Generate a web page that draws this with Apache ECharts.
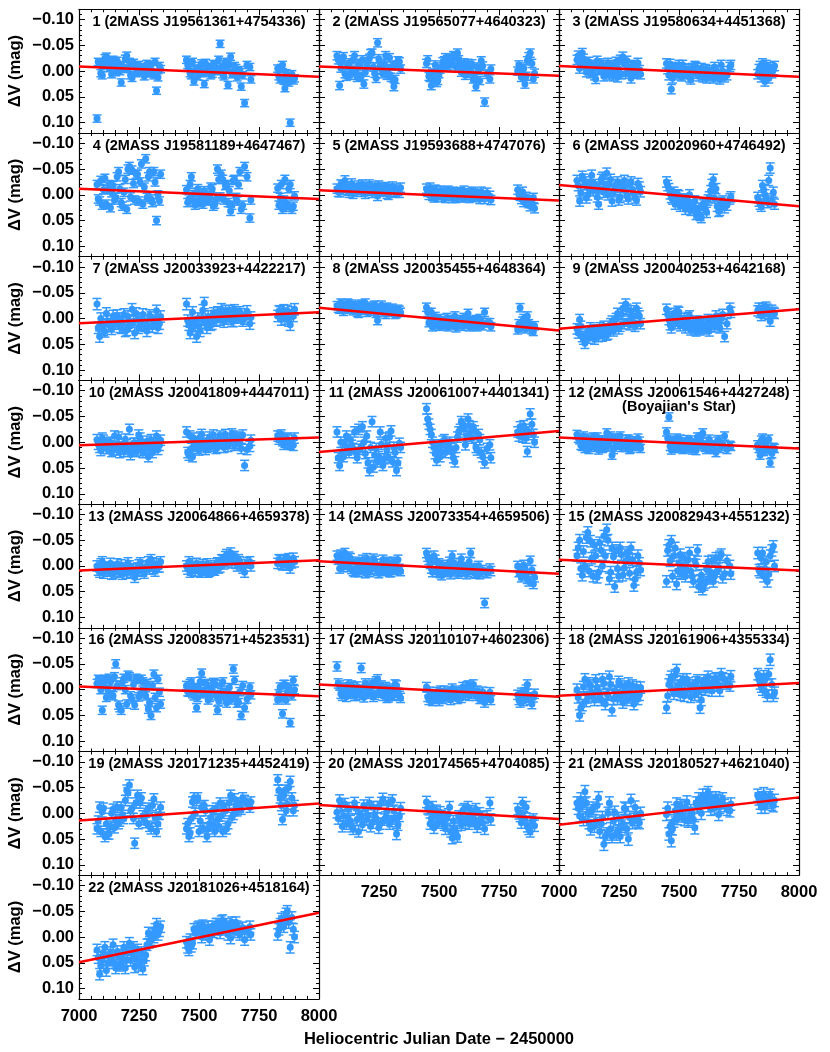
<!DOCTYPE html>
<html>
<head>
<meta charset="utf-8">
<title>Comparison star light curves</title>
<script src="https://cdn.jsdelivr.net/npm/echarts@6/dist/echarts.min.js"></script>
<style>
html, body { margin: 0; padding: 0; background: #fff; }
#main { width: 830px; height: 1052px; }
</style>
</head>
<body>
<div id="main"></div>
<script>
// observation dates (HJD - 2450000), shared by all comparison stars
// first pass
var dates = [7075, 7086, 7097, 7108, 7120, 7131, 7142, 7153, 7165, 7176, 7187, 7199, 7210, 7221, 7232, 7244, 7255, 7266, 7278, 7289, 7300, 7312, 7323, 7335,
	7448, 7458, 7468, 7479, 7490, 7500, 7511, 7522, 7533, 7544, 7555, 7566, 7577, 7588, 7599, 7610, 7621, 7632, 7643, 7654, 7665, 7676, 7690, 7712,
	7828, 7838, 7848, 7858, 7868, 7880, 7893,
	// second pass
	7080, 7091, 7102, 7114, 7125, 7136, 7148, 7159, 7170, 7181, 7193, 7204, 7215, 7227, 7238, 7249, 7260, 7272, 7283, 7294, 7306, 7317, 7329, 7340,
	7453, 7463, 7473, 7484, 7495, 7505, 7516, 7527, 7538, 7549, 7560, 7571, 7582, 7593, 7604, 7615, 7626, 7637, 7648, 7659, 7670, 7682, 7700, 7716,
	7833, 7843, 7853, 7863, 7874, 7887, 7898];

var starNames = ["J19561361+4754336", "J19565077+4640323", "J19580634+4451368", "J19581189+4647467", "J19593688+4747076", "J20020960+4746492",
	"J20033923+4422217", "J20035455+4648364", "J20040253+4642168", "J20041809+4447011", "J20061007+4401341", "J20061546+4427248",
	"J20064866+4659378", "J20073354+4659506", "J20082943+4551232", "J20083571+4523531", "J20110107+4602306", "J20161906+4355334",
	"J20171235+4452419", "J20174565+4704085", "J20180527+4621040", "J20181026+4518164"];

// delta V (mag) of each star, one value per date
var mag1 = [0.092, -0.015, 0.008, -0.025, -0.02, -0.008, -0.022, 0.002, -0.012, 0.022, -0.005, -0.03, -0.018, 0.013, -0.01, -0.004, 0.002, -0.008, -0.003, 0.004, -0.012, 0.008, 0.038, -0.01,
	-0.022, -0.012, 0.008, 0.02, -0.005, 0.003, -0.015, 0.025, 0.002, -0.008, 0.005, -0.012, -0.003, -0.053, 0.006, -0.018, 0.027, -0.028, 0.003, -0.006, 0.002, 0.03, 0.062, -0.008,
	-0.005, 0.016, -0.012, 0.033, 0.015, 0.1, 0.018,
	-0.018, 0.004, -0.012, -0.028, -0.006, 0.006, -0.015, -0.02, 0.0, -0.01, -0.024, -0.004, 0.008, -0.016, 0.004, -0.012, -0.002, 0.01, -0.014, -0.006, 0.004, -0.018, 0.012, -0.004,
	-0.012, 0.004, -0.018, -0.002, 0.01, -0.01, 0.004, -0.016, -0.006, 0.008, -0.014, 0.0, -0.022, -0.008, 0.01, -0.004, -0.014, 0.006, -0.01, 0.012, -0.002, 0.008, -0.012, 0.016,
	0.01, -0.006, 0.018, 0.004, 0.022, 0.006, 0.014];
var mag2 = [-0.03, 0.028, -0.02, 0.005, -0.012, 0.008, -0.022, 0.0, -0.015, 0.01, 0.025, -0.01, -0.025, -0.035, 0.004, -0.055, -0.01, 0.005, -0.03, -0.005, 0.012, 0.03, -0.012, -0.018,
	-0.015, 0.01, 0.028, 0.015, 0.022, 0.005, -0.008, -0.02, -0.01, -0.025, -0.015, -0.028, -0.035, -0.012, -0.005, 0.008, -0.015, 0.0, 0.015, 0.03, -0.002, -0.02, 0.06, 0.015,
	0.0, -0.008, 0.005, 0.025, -0.02, -0.035, 0.015,
	-0.022, -0.006, -0.028, 0.01, -0.016, -0.002, -0.03, 0.012, -0.01, -0.022, 0.002, -0.018, -0.034, -0.008, 0.014, -0.024, -0.004, -0.015, 0.008, -0.026, -0.01, 0.016, -0.02, -0.004,
	-0.022, 0.012, 0.004, -0.012, 0.018, -0.004, -0.018, -0.026, -0.012, -0.02, -0.03, -0.008, -0.022, 0.002, -0.016, -0.006, 0.004, -0.014, 0.012, -0.008, 0.018, -0.01, 0.006, -0.004,
	-0.012, 0.012, -0.005, 0.01, -0.028, -0.015, 0.004];
var mag3 = [-0.022, -0.005, -0.035, -0.015, -0.008, 0.004, -0.012, 0.015, -0.005, -0.015, 0.01, -0.008, 0.008, -0.012, -0.003, 0.012, -0.022, -0.028, 0.005, -0.008, 0.014, -0.012, 0.005, -0.002,
	-0.015, 0.008, 0.035, -0.008, 0.004, -0.012, 0.01, -0.005, 0.002, 0.012, -0.006, -0.01, 0.005, 0.0, 0.012, -0.004, 0.008, 0.002, 0.014, -0.002, 0.01, -0.012, 0.012, -0.008,
	0.006, -0.01, -0.015, 0.02, 0.008, -0.008, -0.002,
	-0.03, -0.012, -0.024, 0.002, -0.018, -0.008, 0.008, -0.02, -0.002, -0.012, 0.004, -0.016, -0.006, 0.01, -0.018, -0.004, 0.006, -0.014, -0.02, 0.0, -0.01, 0.004, -0.016, 0.006,
	-0.004, -0.014, 0.014, 0.004, -0.006, 0.008, -0.012, 0.006, -0.004, 0.016, 0.002, -0.008, 0.01, -0.006, 0.006, 0.014, -0.002, 0.01, -0.008, 0.006, 0.016, 0.0, 0.008, -0.012,
	-0.004, 0.012, 0.0, -0.012, 0.014, 0.004, -0.01];
var mag4 = [-0.02, 0.012, 0.02, -0.032, -0.01, 0.025, -0.018, 0.005, -0.045, 0.015, -0.005, 0.028, -0.055, -0.048, 0.01, -0.04, -0.025, 0.018, -0.07, -0.035, 0.008, -0.045, 0.05, 0.012,
	-0.01, 0.008, -0.035, 0.012, -0.005, 0.015, 0.002, -0.008, 0.01, 0.005, -0.012, 0.018, -0.05, 0.004, -0.03, -0.018, 0.015, 0.032, -0.028, 0.005, -0.02, 0.028, -0.055, 0.045,
	-0.013, 0.005, 0.028, -0.03, 0.018, -0.02, 0.022,
	0.008, -0.028, -0.01, 0.018, -0.02, -0.004, 0.01, -0.035, -0.012, 0.022, -0.03, -0.05, 0.004, -0.022, -0.04, 0.012, -0.06, -0.015, 0.005, -0.045, 0.015, -0.025, 0.0, -0.04,
	0.015, -0.02, 0.0, 0.02, -0.012, 0.008, 0.018, -0.004, 0.012, -0.015, 0.022, 0.008, -0.03, -0.04, 0.01, -0.02, -0.008, 0.02, -0.03, 0.012, -0.045, 0.02, -0.035, 0.01,
	0.02, -0.02, 0.01, 0.024, -0.012, 0.028, 0.002];
var mag5 = [-0.012, -0.005, -0.018, -0.028, -0.008, -0.015, -0.002, -0.012, -0.018, -0.006, -0.014, -0.01, -0.02, -0.004, -0.016, 0.002, -0.012, -0.008, -0.015, 0.0, -0.01, -0.006, -0.012, -0.004,
	-0.012, 0.0, -0.006, 0.005, -0.008, -0.002, 0.004, -0.006, 0.002, -0.004, 0.006, -0.002, 0.003, -0.005, 0.0, 0.005, -0.003, 0.002, -0.004, 0.004, 0.0, -0.006, 0.008, 0.002,
	-0.01, 0.002, -0.006, 0.008, 0.012, 0.022, 0.006,
	-0.006, -0.02, -0.01, -0.016, -0.004, -0.022, -0.01, -0.006, -0.014, -0.02, -0.002, -0.016, -0.008, -0.012, -0.004, -0.018, -0.006, -0.014, -0.002, -0.012, -0.016, -0.004, -0.008, -0.014,
	-0.006, -0.014, 0.002, -0.01, 0.004, -0.008, -0.002, 0.006, -0.008, 0.002, -0.006, 0.006, -0.004, 0.004, -0.008, 0.002, 0.006, -0.006, 0.004, -0.002, 0.008, 0.002, -0.004, 0.01,
	0.0, 0.008, 0.014, 0.004, 0.016, 0.01, 0.026];
var mag6 = [-0.028, 0.012, -0.036, -0.02, 0.0, -0.025, -0.008, -0.015, 0.018, -0.03, -0.005, -0.042, -0.02, 0.012, -0.01, -0.025, 0.005, -0.018, -0.008, 0.008, -0.025, -0.002, 0.01, -0.015,
	-0.025, -0.012, 0.005, -0.005, 0.012, 0.002, 0.015, 0.008, 0.02, 0.0, 0.025, 0.012, 0.035, 0.04, 0.018, 0.028, 0.01, -0.008, -0.03, -0.012, 0.032, 0.015, 0.025, 0.008,
	0.005, 0.018, -0.018, 0.0, 0.015, -0.052, -0.005,
	-0.018, -0.004, -0.03, 0.006, -0.012, -0.038, -0.02, 0.004, -0.012, -0.034, -0.016, 0.0, -0.03, -0.006, -0.02, 0.01, -0.014, -0.028, 0.002, -0.02, -0.01, 0.006, -0.022, -0.006,
	-0.018, -0.002, 0.008, 0.018, 0.0, 0.022, 0.01, 0.028, 0.012, 0.03, 0.02, 0.038, 0.026, 0.044, 0.02, 0.034, 0.004, -0.02, 0.006, 0.022, 0.03, 0.012, 0.02, 0.004,
	0.012, 0.022, -0.01, 0.008, -0.028, 0.012, 0.018];
var mag7 = [-0.028, 0.035, 0.012, 0.025, 0.005, 0.015, -0.005, 0.01, 0.0, 0.018, -0.008, 0.022, 0.005, -0.018, 0.028, 0.002, 0.012, -0.008, 0.01, 0.015, -0.002, 0.008, -0.015, 0.01,
	-0.028, 0.012, 0.02, 0.008, 0.035, 0.015, 0.002, -0.03, 0.018, 0.005, 0.01, -0.005, -0.012, 0.002, -0.008, -0.015, 0.0, -0.01, 0.005, -0.012, -0.004, -0.008, 0.0, 0.01,
	-0.005, -0.012, -0.008, 0.0, -0.015, 0.012, -0.005,
	0.018, 0.0, 0.022, -0.01, 0.012, 0.02, 0.004, -0.006, 0.016, 0.008, 0.024, -0.004, 0.014, 0.006, -0.01, 0.018, 0.0, 0.014, 0.024, -0.006, 0.016, 0.004, 0.018, -0.004,
	0.004, 0.028, -0.012, 0.014, 0.0, 0.024, -0.016, 0.008, -0.004, 0.012, -0.01, 0.004, -0.006, -0.018, 0.006, -0.006, -0.014, 0.004, -0.016, -0.002, -0.012, 0.004, -0.014, -0.002,
	-0.014, 0.002, -0.016, -0.006, 0.004, -0.012, -0.018];
var mag8 = [-0.025, -0.018, -0.028, -0.02, -0.03, -0.022, -0.015, -0.025, -0.01, -0.028, -0.02, -0.012, -0.022, -0.018, -0.026, 0.004, -0.015, -0.02, -0.008, -0.018, -0.012, -0.015, -0.01, -0.016,
	-0.022, 0.008, -0.012, 0.012, 0.002, 0.015, 0.005, 0.01, -0.002, 0.012, 0.006, -0.005, 0.01, 0.002, 0.015, 0.004, -0.01, 0.008, 0.014, 0.002, 0.012, 0.005, -0.012, 0.008,
	0.022, -0.021, 0.005, 0.012, -0.005, 0.015, 0.025,
	-0.02, -0.03, -0.014, -0.024, -0.018, -0.028, -0.022, -0.012, -0.026, -0.016, -0.03, -0.02, -0.014, -0.024, -0.01, -0.02, -0.026, -0.012, -0.022, -0.014, -0.02, -0.008, -0.018, -0.012,
	-0.012, 0.004, 0.016, -0.004, 0.01, 0.0, 0.014, 0.006, 0.016, 0.002, 0.012, 0.018, 0.006, 0.012, -0.002, 0.01, 0.016, 0.004, 0.008, 0.016, 0.0, 0.014, 0.008, 0.016,
	0.01, 0.018, 0.0, 0.02, 0.01, 0.022, 0.014];
var mag9 = [0.02, 0.002, 0.035, 0.048, 0.025, 0.018, 0.03, 0.022, 0.035, 0.028, 0.015, 0.032, 0.02, 0.005, 0.012, -0.01, 0.015, -0.02, -0.028, 0.005, -0.015, 0.008, -0.02, -0.005,
	-0.018, 0.002, 0.018, -0.01, 0.005, -0.012, 0.008, 0.0, 0.012, -0.005, 0.015, 0.02, 0.005, 0.022, 0.01, 0.018, 0.002, 0.015, 0.008, -0.005, 0.012, 0.0, 0.035, -0.02,
	-0.015, -0.012, -0.02, -0.01, -0.018, 0.005, -0.012,
	0.028, 0.015, 0.04, 0.03, 0.038, 0.024, 0.04, 0.028, 0.018, 0.034, 0.022, 0.03, 0.01, 0.024, 0.0, 0.02, -0.008, 0.01, -0.018, 0.012, -0.004, 0.015, -0.01, 0.01,
	-0.008, 0.012, -0.004, 0.01, -0.014, 0.014, 0.004, 0.018, -0.002, 0.022, 0.008, 0.024, 0.014, 0.006, 0.02, 0.012, 0.024, 0.006, 0.016, 0.004, 0.018, -0.008, 0.01, -0.012,
	-0.02, -0.006, -0.016, -0.022, -0.008, -0.016, -0.01];
var mag10 = [-0.005, 0.01, -0.008, 0.005, 0.012, 0.0, 0.015, 0.008, -0.01, 0.012, 0.018, 0.005, -0.025, 0.01, 0.002, 0.015, -0.008, 0.02, 0.005, 0.028, -0.005, 0.01, -0.012, 0.006,
	-0.02, 0.025, 0.012, -0.008, 0.005, 0.015, -0.015, 0.002, 0.01, -0.01, 0.005, -0.005, 0.01, -0.012, 0.0, -0.015, 0.008, -0.005, -0.012, 0.003, -0.008, 0.012, 0.045, 0.008,
	-0.012, -0.01, -0.003, 0.0, -0.006, 0.004, 0.006,
	0.004, 0.016, -0.004, 0.012, 0.002, 0.018, -0.012, 0.014, 0.02, 0.004, -0.006, 0.014, 0.024, 0.002, 0.018, -0.014, 0.008, 0.016, -0.002, 0.012, 0.02, 0.002, 0.014, -0.004,
	0.02, -0.012, 0.028, 0.004, 0.012, -0.01, 0.006, 0.014, -0.004, 0.008, -0.014, 0.012, 0.002, -0.008, 0.01, -0.006, 0.002, -0.016, 0.006, -0.01, 0.002, -0.014, 0.014, -0.004,
	-0.006, -0.014, 0.004, -0.008, 0.002, -0.004, -0.008];
var mag11 = [-0.02, 0.045, 0.02, 0.005, 0.015, -0.005, 0.012, 0.02, -0.025, 0.008, 0.0, -0.012, 0.055, -0.04, 0.025, 0.038, -0.02, 0.045, -0.008, 0.03, -0.022, 0.01, 0.055, 0.002,
	-0.065, -0.035, -0.015, 0.01, 0.035, 0.005, 0.018, -0.005, 0.012, 0.0, 0.02, 0.038, -0.01, -0.025, -0.035, 0.005, -0.045, -0.02, -0.03, 0.01, -0.015, 0.02, 0.04, 0.005,
	-0.02, -0.03, -0.01, -0.025, 0.018, -0.055, -0.015,
	0.03, 0.0, 0.028, -0.012, 0.02, 0.006, -0.02, 0.03, 0.014, -0.03, 0.022, 0.04, 0.01, 0.048, 0.012, 0.028, 0.004, 0.032, 0.014, -0.01, 0.038, 0.02, 0.04, 0.01,
	-0.045, -0.025, 0.0, 0.022, 0.012, 0.028, -0.002, 0.02, 0.004, 0.012, 0.03, 0.01, -0.02, -0.04, -0.025, -0.012, -0.032, -0.008, -0.022, 0.015, -0.005, 0.028, 0.012, 0.03,
	-0.012, -0.022, -0.032, -0.008, -0.02, -0.035, 0.0];
var mag12 = [-0.015, -0.005, 0.008, 0.012, -0.008, 0.002, -0.01, 0.005, 0.015, -0.005, 0.01, -0.018, 0.0, 0.025, -0.008, 0.006, -0.012, 0.002, 0.01, -0.006, 0.012, -0.003, 0.008, -0.002,
	-0.02, -0.049, 0.015, 0.002, -0.008, 0.01, 0.0, 0.012, -0.005, 0.008, 0.015, 0.002, -0.01, 0.005, -0.018, 0.01, 0.0, 0.012, 0.005, 0.02, -0.005, 0.008, -0.012, 0.006,
	0.005, 0.025, -0.008, 0.002, 0.015, 0.04, 0.01,
	-0.008, 0.006, -0.012, 0.004, 0.014, -0.002, 0.01, -0.01, 0.006, 0.012, -0.004, 0.008, -0.012, 0.014, 0.002, -0.008, 0.01, 0.004, -0.006, 0.014, 0.0, 0.008, -0.008, 0.012,
	-0.008, 0.008, -0.004, 0.012, 0.002, -0.006, 0.014, 0.004, 0.012, -0.004, 0.01, 0.016, 0.004, -0.01, 0.008, 0.014, -0.006, 0.006, 0.014, -0.002, 0.012, 0.004, 0.014, 0.008,
	0.012, -0.004, 0.018, 0.006, -0.006, 0.022, 0.012];
var mag13 = [0.0, 0.012, -0.008, 0.005, 0.01, -0.005, 0.015, 0.003, 0.012, -0.002, 0.008, 0.014, 0.0, 0.006, 0.022, 0.004, -0.006, 0.01, 0.002, -0.008, -0.012, 0.005, -0.004, 0.002,
	0.0, -0.008, 0.008, 0.004, -0.005, 0.01, 0.002, 0.006, -0.004, 0.01, 0.004, 0.008, -0.006, 0.002, -0.01, -0.018, -0.008, -0.025, -0.015, -0.005, -0.012, -0.002, 0.012, -0.008,
	-0.005, -0.01, -0.002, -0.012, -0.008, 0.004, -0.015,
	0.008, -0.004, 0.014, 0.002, 0.01, 0.016, 0.006, -0.004, 0.01, 0.016, 0.004, -0.006, 0.012, 0.006, 0.016, -0.002, 0.008, 0.014, 0.0, 0.006, -0.006, 0.01, 0.002, -0.008,
	0.006, 0.012, -0.004, 0.01, 0.002, 0.012, -0.002, 0.008, 0.012, 0.0, 0.006, -0.004, 0.004, -0.012, -0.004, -0.022, -0.012, -0.006, -0.018, 0.0, -0.008, 0.004, -0.006, 0.0,
	-0.012, -0.004, -0.01, -0.002, -0.014, -0.006, -0.008];
var mag14 = [-0.02, 0.005, -0.012, -0.025, 0.002, -0.015, 0.01, -0.008, 0.012, -0.005, 0.005, -0.015, 0.012, 0.0, -0.01, 0.01, 0.002, -0.012, 0.008, -0.005, 0.012, -0.008, 0.0, 0.006,
	-0.025, -0.012, 0.005, -0.02, 0.012, -0.005, 0.018, 0.002, 0.01, -0.008, -0.02, 0.008, 0.015, -0.005, 0.01, 0.002, 0.012, -0.025, 0.008, 0.015, 0.0, 0.012, 0.072, 0.005,
	0.0, 0.01, 0.018, 0.005, 0.025, -0.01, 0.035,
	-0.012, -0.022, 0.002, -0.008, -0.018, 0.006, 0.012, -0.004, 0.008, -0.012, 0.014, 0.0, 0.008, -0.014, 0.006, 0.014, -0.004, 0.01, -0.008, 0.012, -0.002, 0.008, -0.012, 0.01,
	-0.018, -0.004, 0.012, -0.012, 0.004, 0.014, -0.002, 0.012, 0.004, 0.016, -0.006, 0.002, 0.012, -0.014, 0.006, 0.016, -0.008, 0.006, 0.014, 0.004, 0.016, 0.008, 0.014, 0.01,
	0.012, 0.022, -0.002, 0.016, 0.03, 0.008, 0.022];
var mag15 = [-0.02, -0.05, 0.018, 0.0, -0.065, -0.048, 0.02, -0.02, 0.012, -0.03, -0.058, -0.07, 0.025, -0.035, 0.04, 0.005, -0.035, 0.018, -0.008, -0.015, -0.035, 0.038, 0.012, -0.005,
	0.03, -0.04, -0.048, -0.02, 0.035, -0.005, 0.015, -0.015, 0.008, -0.025, 0.02, -0.01, -0.03, 0.028, 0.045, 0.032, -0.008, 0.012, 0.03, -0.015, 0.005, -0.022, 0.015, 0.0,
	-0.025, 0.012, -0.025, 0.005, 0.03, -0.02, -0.038,
	-0.035, 0.005, -0.028, -0.055, 0.01, -0.015, -0.04, 0.022, -0.045, 0.0, -0.02, -0.05, 0.012, -0.018, -0.03, 0.02, -0.022, 0.004, -0.026, 0.014, -0.012, 0.026, -0.02, 0.008,
	-0.03, -0.01, 0.02, -0.035, 0.01, -0.022, 0.004, 0.02, -0.012, 0.01, 0.03, -0.002, 0.04, 0.018, 0.036, 0.006, 0.024, -0.01, 0.02, 0.01, -0.018, 0.022, -0.01, 0.015,
	0.008, -0.015, 0.02, -0.008, 0.016, -0.03, 0.0];
var mag16 = [-0.012, -0.018, 0.04, -0.02, 0.0, -0.015, 0.012, -0.05, 0.03, 0.04, -0.022, 0.028, -0.025, 0.018, 0.03, -0.02, 0.008, -0.015, 0.012, 0.038, 0.05, -0.03, 0.035, 0.005,
	-0.008, 0.005, -0.015, 0.012, 0.035, -0.002, -0.032, 0.005, -0.01, 0.015, 0.0, -0.012, 0.04, 0.01, -0.015, 0.018, 0.005, 0.02, -0.04, 0.012, 0.025, 0.05, 0.035, -0.005,
	0.02, -0.005, 0.047, -0.01, 0.005, 0.064, -0.018,
	-0.02, 0.0, -0.01, 0.015, -0.022, 0.01, -0.025, -0.008, 0.035, -0.015, 0.0, -0.028, 0.012, -0.01, -0.022, 0.014, -0.02, 0.004, -0.012, 0.025, -0.008, 0.015, -0.02, 0.028,
	0.004, -0.012, 0.008, -0.004, 0.015, -0.016, 0.008, -0.012, 0.02, 0.002, -0.014, 0.012, 0.022, -0.01, 0.008, 0.026, -0.004, 0.014, -0.018, 0.026, 0.004, -0.008, 0.018, 0.01,
	0.008, 0.016, -0.01, 0.02, -0.005, 0.012, 0.0];
var mag17 = [-0.045, -0.008, 0.012, 0.0, -0.01, 0.008, -0.005, 0.012, 0.002, -0.042, 0.015, -0.008, 0.005, -0.012, 0.01, -0.02, 0.0, 0.012, -0.005, 0.015, 0.002, 0.01, -0.008, 0.012,
	-0.005, 0.02, 0.012, 0.018, 0.005, 0.022, 0.01, 0.002, 0.015, 0.008, -0.002, 0.012, 0.018, 0.005, -0.005, 0.01, -0.008, 0.002, -0.01, 0.012, 0.008, 0.015, 0.025, 0.005,
	0.01, 0.025, 0.012, 0.005, -0.01, 0.02, 0.015,
	-0.012, 0.008, -0.004, 0.014, 0.004, -0.008, 0.012, -0.006, 0.01, 0.0, -0.012, 0.008, -0.004, 0.014, -0.016, 0.006, -0.008, 0.004, 0.016, -0.002, 0.012, -0.01, 0.006, 0.016,
	0.014, 0.004, 0.022, 0.01, 0.016, 0.002, 0.018, 0.012, 0.004, 0.02, 0.008, 0.002, 0.012, 0.016, 0.006, -0.006, 0.012, -0.004, 0.008, 0.002, 0.018, 0.004, 0.014, 0.02,
	0.02, 0.006, 0.022, 0.0, 0.016, 0.028, 0.008];
var mag18 = [0.0, 0.05, 0.03, -0.02, 0.015, -0.008, 0.012, -0.018, 0.005, 0.02, -0.012, 0.008, -0.025, 0.04, 0.002, 0.018, -0.01, 0.025, 0.005, -0.012, 0.015, 0.028, -0.005, 0.01,
	0.035, -0.01, -0.025, 0.008, -0.038, 0.002, -0.015, 0.012, -0.02, 0.0, -0.008, 0.01, -0.018, 0.035, -0.012, 0.0, -0.025, -0.005, -0.015, -0.022, -0.01, -0.03, -0.02, -0.008,
	-0.03, -0.012, 0.0, -0.02, 0.012, -0.058, 0.012,
	0.015, 0.035, -0.005, 0.022, -0.012, 0.006, 0.02, -0.004, 0.014, -0.02, 0.028, 0.01, -0.01, 0.018, 0.004, -0.015, 0.012, -0.006, 0.02, 0.006, -0.008, 0.01, 0.018, -0.004,
	0.012, -0.018, 0.0, -0.028, -0.008, 0.01, -0.02, 0.004, -0.012, 0.014, -0.002, -0.014, 0.004, 0.02, -0.018, -0.006, -0.012, 0.002, -0.02, -0.008, 0.002, -0.022, -0.012, -0.026,
	-0.02, -0.006, -0.026, 0.004, -0.03, -0.01, 0.006];
var mag19 = [0.03, -0.012, -0.003, 0.045, 0.04, 0.025, -0.008, 0.012, 0.02, -0.012, 0.01, -0.045, -0.055, -0.01, 0.058, -0.035, -0.02, 0.005, 0.018, -0.01, 0.03, -0.028, 0.035, 0.002,
	0.03, 0.045, 0.01, -0.03, -0.025, 0.035, -0.012, -0.015, 0.045, 0.02, -0.005, 0.035, 0.012, -0.02, 0.035, -0.005, 0.02, -0.035, 0.002, -0.015, -0.02, -0.008, -0.025, -0.012,
	-0.065, -0.03, 0.012, -0.045, -0.018, -0.062, -0.005,
	0.015, 0.035, -0.01, 0.02, 0.04, 0.0, 0.028, -0.012, 0.015, 0.004, -0.025, -0.04, -0.005, 0.01, -0.02, 0.02, -0.03, 0.012, -0.005, 0.025, -0.015, 0.008, 0.02, -0.012,
	0.02, 0.038, -0.022, 0.0, -0.03, 0.015, 0.028, -0.005, 0.03, 0.008, 0.022, -0.01, 0.025, 0.005, -0.015, 0.03, -0.02, 0.008, -0.028, -0.005, -0.012, -0.03, -0.018, -0.022,
	-0.045, -0.015, -0.035, -0.005, -0.05, -0.03, -0.015];
var mag20 = [-0.002, -0.025, 0.025, -0.018, 0.008, 0.015, 0.03, -0.01, 0.035, 0.005, -0.015, 0.012, -0.02, 0.018, 0.002, -0.012, 0.02, -0.028, 0.008, -0.02, 0.015, -0.005, 0.04, 0.005,
	-0.022, -0.008, 0.01, 0.028, -0.005, 0.015, 0.005, 0.022, 0.01, -0.012, 0.048, 0.03, 0.045, 0.012, -0.005, 0.018, -0.012, 0.005, 0.015, -0.008, 0.02, 0.008, 0.03, -0.02,
	-0.008, 0.005, -0.02, 0.01, 0.025, 0.035, 0.012,
	0.01, -0.015, 0.005, 0.02, -0.01, 0.025, -0.02, 0.012, 0.0, 0.022, -0.008, 0.004, 0.025, -0.012, 0.01, 0.028, -0.02, 0.012, -0.004, 0.02, -0.025, 0.01, 0.022, -0.01,
	-0.01, 0.02, -0.012, 0.004, 0.018, -0.002, 0.014, 0.03, 0.002, 0.035, 0.015, 0.04, 0.006, 0.022, -0.008, 0.01, 0.02, -0.004, 0.012, 0.026, 0.0, 0.018, 0.006, 0.012,
	0.0, 0.018, 0.008, -0.012, 0.03, 0.016, 0.024];
var mag21 = [-0.02, 0.005, -0.015, -0.042, 0.0, 0.03, -0.01, 0.015, -0.03, 0.02, 0.06, 0.04, -0.02, 0.045, -0.002, 0.035, 0.045, 0.02, -0.008, 0.05, -0.025, 0.012, 0.002, 0.018,
	0.002, 0.04, 0.053, 0.015, -0.018, 0.0, -0.01, 0.012, -0.022, 0.008, 0.0, 0.028, -0.012, -0.015, -0.035, -0.025, -0.04, -0.008, -0.02, -0.03, 0.002, -0.022, -0.015, -0.005,
	-0.035, -0.02, -0.03, -0.012, -0.022, -0.035, -0.015,
	-0.01, -0.028, 0.012, -0.02, 0.018, -0.005, 0.025, -0.015, 0.035, 0.008, 0.045, 0.0, 0.03, 0.015, 0.04, 0.01, 0.025, -0.01, 0.03, 0.008, 0.018, -0.012, 0.015, 0.0,
	-0.01, 0.025, 0.03, -0.005, 0.01, -0.015, 0.005, -0.012, 0.015, -0.005, 0.012, -0.02, -0.028, 0.0, -0.022, -0.035, -0.015, -0.03, -0.01, -0.025, -0.012, -0.028, -0.008, -0.018,
	-0.028, -0.012, -0.038, -0.025, -0.03, -0.018, -0.025];
var mag22 = [0.025, 0.072, 0.045, 0.02, 0.05, 0.03, 0.015, 0.06, 0.038, 0.052, 0.02, 0.045, 0.012, 0.032, 0.058, 0.025, 0.048, 0.062, 0.035, -0.008, 0.005, 0.0, -0.025, -0.012,
	0.01, 0.025, 0.018, -0.015, -0.01, -0.02, 0.0, -0.018, -0.012, 0.005, -0.02, -0.015, -0.025, -0.008, -0.032, -0.02, -0.005, 0.002, -0.022, -0.028, -0.015, -0.01, 0.005, -0.02,
	-0.005, -0.025, -0.03, -0.038, -0.05, 0.02, -0.015,
	0.04, 0.055, 0.03, 0.065, 0.035, 0.045, 0.05, 0.028, 0.055, 0.035, 0.06, 0.03, 0.045, 0.02, 0.04, 0.055, 0.03, 0.045, 0.015, 0.01, -0.005, -0.015, -0.005, -0.02,
	0.02, 0.005, 0.012, -0.008, -0.018, -0.01, -0.022, -0.005, -0.02, -0.012, -0.01, -0.025, -0.018, -0.03, -0.015, -0.025, -0.012, -0.028, -0.01, -0.02, -0.005, -0.018, -0.01, -0.005,
	-0.015, -0.035, -0.02, -0.045, -0.028, -0.038, 0.0];

// typical photometric error of each star (mag)
var errSize = [0.007, 0.008, 0.009, 0.008, 0.009, 0.010, 0.011, 0.008, 0.010, 0.010, 0.010, 0.008, 0.010, 0.009, 0.011, 0.008, 0.009, 0.011, 0.010, 0.011, 0.012, 0.011];

// linear fit of each star, value at HJD 7000 and at HJD 8000
var trendStart = [-0.009, -0.009, -0.01, -0.012, -0.009, -0.019, 0.009, -0.021, 0.02, 0.006, 0.019, -0.009, 0.009, -0.009, -0.012, -0.006, -0.01, 0.012, 0.014, -0.016, 0.022, 0.049];
var trendEnd = [0.011, 0.009, 0.011, 0.008, 0.011, 0.022, -0.012, 0.023, -0.018, -0.009, -0.022, 0.012, -0.011, 0.015, 0.009, 0.013, 0.014, -0.013, -0.019, 0.011, -0.031, -0.047];

// tick labels
var yTicks = [-0.10, -0.05, 0.00, 0.05, 0.10];

var mags = [mag1, mag2, mag3, mag4, mag5, mag6, mag7, mag8, mag9, mag10, mag11,
	mag12, mag13, mag14, mag15, mag16, mag17, mag18, mag19, mag20, mag21, mag22];

var lightCurves = {
	// page layout
	panelLeft: 79,
	panelTop: 9.3,
	panelW: 240,
	panelH: 123.7,
	pointColor: '#3399ff',
	fontName: '"Liberation Sans", Arial, sans-serif',

	magLabel: function(v) {
		// only label the multiples of 0.05
		var r = Math.round(v * 100);
		if (r % 5 !== 0) {
			return '';
		}
		if (r === 0) {
			return '0.00';
		}
		return (r < 0 ? '\u2212' : '') + (Math.abs(r) / 100).toFixed(2);
	},

	makeXAxis: function(i, pos, showLabel, showEnds) {
		return {
			gridIndex: i, type: 'value', position: pos,
			min: 7000, max: 8000, interval: 250,
			axisLine: { onZero: false, lineStyle: { color: '#000', width: 1.2 } },
			axisTick: { inside: true, length: 6, lineStyle: { color: '#000', width: 1 } },
			minorTick: { show: true, splitNumber: 5, length: 3, lineStyle: { color: '#000', width: 1 } },
			splitLine: { show: false },
			axisLabel: {
				show: showLabel, showMinLabel: showEnds, showMaxLabel: showEnds, margin: 9,
				formatter: function(v) { return String(v); },
				color: '#000', fontSize: 16.5, fontWeight: 'bold', fontFamily: lightCurves.fontName
			}
		};
	},

	makeYAxis: function(i, pos, major, showLabel) {
		var ax = {
			gridIndex: i, type: 'value', position: pos, inverse: true,
			min: -0.12, max: 0.12,
			axisLine: { show: !major, onZero: false, lineStyle: { color: '#000', width: 1.2 } },
			splitLine: { show: false }
		};
		if (major) {
			// long ticks at the labelled values
			ax.axisTick = { inside: true, length: 6, customValues: yTicks, lineStyle: { color: '#000', width: 1 } };
			ax.axisLabel = { show: false };
		} else {
			// short ticks every 0.01 mag, labels every 0.05
			ax.interval = 0.01;
			ax.axisTick = { inside: true, length: 3, lineStyle: { color: '#000', width: 1 } };
			ax.axisLabel = {
				show: showLabel, formatter: lightCurves.magLabel, margin: 5,
				showMinLabel: false, showMaxLabel: false,
				color: '#000', fontSize: 16.5, fontWeight: 'bold', fontFamily: lightCurves.fontName
			};
		}
		return ax;
	},

	// error bar with small caps
	renderErrorBar: function(params, api) {
		var x = api.value(0), y = api.value(1), e = api.value(2);
		var hi = api.coord([x, y - e]);
		var lo = api.coord([x, y + e]);
		var half = 4.5;
		var style = { stroke: lightCurves.pointColor, lineWidth: 1.5 };
		return {
			type: 'group',
			children: [
				{ type: 'line', shape: { x1: hi[0], y1: hi[1], x2: lo[0], y2: lo[1] }, style: style },
				{ type: 'line', shape: { x1: hi[0] - half, y1: hi[1], x2: hi[0] + half, y2: hi[1] }, style: style },
				{ type: 'line', shape: { x1: lo[0] - half, y1: lo[1], x2: lo[0] + half, y2: lo[1] }, style: style }
			]
		};
	},

	init: function() {
		var grids = [], xAxes = [], yAxes = [], series = [], texts = [];
		var fontName = lightCurves.fontName;

		for (var i = 0; i < mags.length; i++) {
			var row = Math.floor(i / 3), col = i % 3;
			var gx = lightCurves.panelLeft + col * lightCurves.panelW;
			var gy = lightCurves.panelTop + row * lightCurves.panelH;
			var lastInCol = (i + 3 >= mags.length);

			grids.push({ left: gx, top: gy, width: lightCurves.panelW, height: lightCurves.panelH });

			xAxes.push(lightCurves.makeXAxis(i, 'bottom', lastInCol, col !== 1));
			xAxes.push(lightCurves.makeXAxis(i, 'top', false, false));

			yAxes.push(lightCurves.makeYAxis(i, 'left', false, col === 0));
			yAxes.push(lightCurves.makeYAxis(i, 'left', true, false));
			yAxes.push(lightCurves.makeYAxis(i, 'right', false, false));
			yAxes.push(lightCurves.makeYAxis(i, 'right', true, false));

			var points = [], bars = [];
			for (var k = 0; k < dates.length; k++) {
				points.push([dates[k], mags[i][k]]);
				bars.push([dates[k], mags[i][k], errSize[i]]);
			}

			series.push({
				type: 'custom', xAxisIndex: 2 * i, yAxisIndex: 4 * i, z: 2,
				renderItem: lightCurves.renderErrorBar, encode: { x: 0, y: 1 }, data: bars
			});
			series.push({
				type: 'scatter', xAxisIndex: 2 * i, yAxisIndex: 4 * i, z: 3,
				symbol: 'circle', symbolSize: 7, itemStyle: { color: lightCurves.pointColor, opacity: 1 },
				data: points
			});
			series.push({
				type: 'line', xAxisIndex: 2 * i, yAxisIndex: 4 * i, z: 4,
				showSymbol: false, symbol: 'none',
				lineStyle: { color: '#ff0000', width: 2.5 },
				data: [[7000, trendStart[i]], [8000, trendEnd[i]]]
			});

			// panel title
			var title = (i + 1) + ' (2MASS ' + starNames[i] + ')';
			if (i === 11) {
				title += "\n(Boyajian's Star)";
			}
			texts.push({
				type: 'text', x: gx + lightCurves.panelW / 2, y: gy + 5.5, z: 10,
				style: {
					text: title, fill: '#000', fontSize: 14.5, fontWeight: 'bold', fontFamily: fontName,
					lineHeight: 14, align: 'center', verticalAlign: 'top'
				}
			});

			// y axis name on the left column
			if (col === 0) {
				texts.push({
					type: 'text', x: 15, y: gy + lightCurves.panelH / 2, rotation: Math.PI / 2, z: 10,
					style: {
						text: '\u0394V (mag)', fill: '#000', fontSize: 16.5, fontWeight: 'bold', fontFamily: fontName,
						align: 'center', verticalAlign: 'middle'
					}
				});
			}
		}

		texts.push({
			type: 'text', x: 439, y: 1039, z: 10,
			style: {
				text: 'Heliocentric Julian Date \u2212 2450000', fill: '#000', fontSize: 16.5, fontWeight: 'bold', fontFamily: fontName,
				align: 'center', verticalAlign: 'middle'
			}
		});

		var myChart = echarts.init(document.getElementById('main'), null, { renderer: 'canvas' });
		myChart.setOption({
			animation: false,
			backgroundColor: '#fff',
			grid: grids,
			xAxis: xAxes,
			yAxis: yAxes,
			series: series,
			graphic: { elements: texts }
		});
	}
};

lightCurves.init();
</script>
</body>
</html>
